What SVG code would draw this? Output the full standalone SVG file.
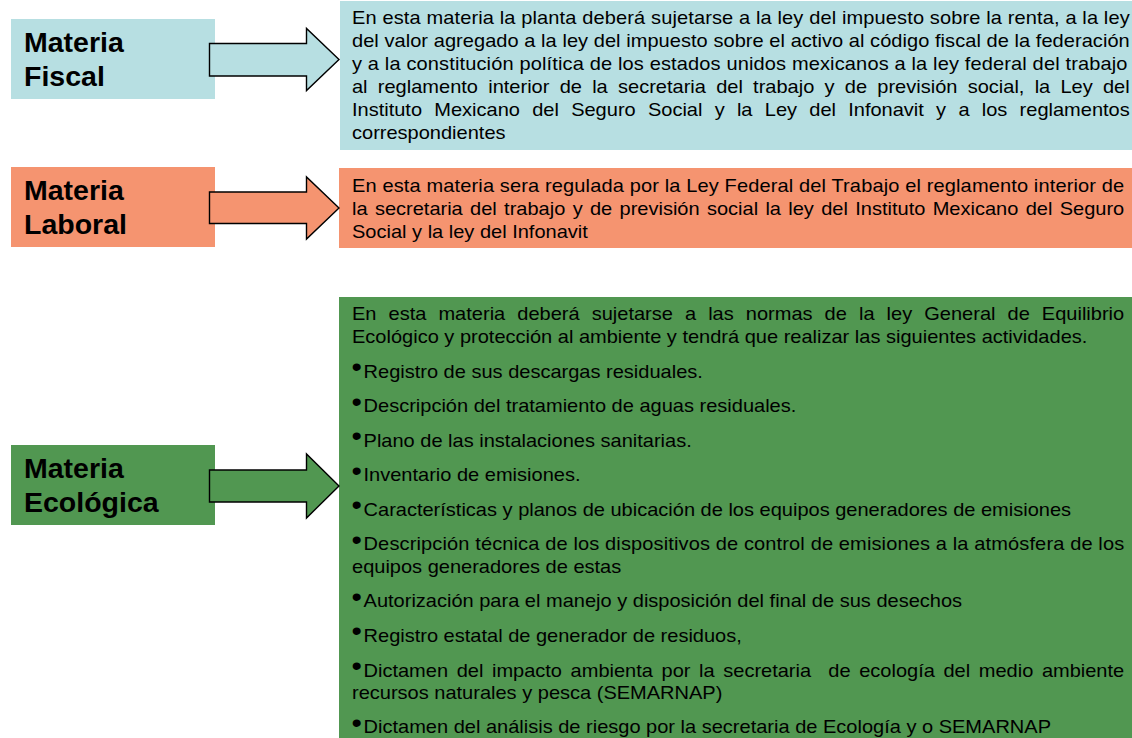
<svg xmlns="http://www.w3.org/2000/svg" width="1132" height="738" viewBox="0 0 1132 738">
<style>
  .lbl{font-family:"Liberation Sans",Arial,sans-serif;font-weight:bold;font-size:28.5px;fill:#000}
  .tx{font-family:"Liberation Sans",Arial,sans-serif;font-size:18.2px;fill:#000}
  .bul{font-size:27px}
  .arrow{stroke:#000;stroke-width:1.4;stroke-linejoin:miter}
  .blue{fill:#B7DFE2}
  .salmon{fill:#F59470}
  .green{fill:#519751}
</style>
<rect width="1132" height="738" fill="#fff"/>

<g id="node-fiscal">
  <rect class="blue" x="11" y="19" width="204" height="80"/>
  <text class="lbl" x="24" y="52">Materia</text>
  <text class="lbl" x="24" y="86">Fiscal</text>
</g>
<g id="node-laboral">
  <rect class="salmon" x="11" y="167" width="204" height="80"/>
  <text class="lbl" x="24" y="200">Materia</text>
  <text class="lbl" x="24" y="234">Laboral</text>
</g>
<g id="node-ecologica">
  <rect class="green" x="11" y="445" width="204" height="80"/>
  <text class="lbl" x="24" y="478">Materia</text>
  <text class="lbl" x="24" y="512">Ecológica</text>
</g>

<g id="node-fiscal-desc">
  <rect class="blue" x="340" y="1" width="792" height="149"/>
  <g class="tx" transform="translate(352 0) scale(1.1 1)">
    <text x="0" y="24" textLength="707" lengthAdjust="spacing">En esta materia la planta deberá sujetarse a la ley del impuesto sobre la renta, a la ley</text>
    <text x="0" y="47" textLength="707" lengthAdjust="spacing">del valor agregado a la ley del impuesto sobre el activo al código fiscal de la federación</text>
    <text x="0" y="70" textLength="705" lengthAdjust="spacing">y a la constitución política de los estados unidos mexicanos a la ley federal del trabajo</text>
    <text x="0" y="93" word-spacing="4.26" textLength="707" lengthAdjust="spacing">al reglamento interior de la secretaria del trabajo y de previsión social, la Ley del</text>
    <text x="0" y="116" word-spacing="6.1" textLength="707" lengthAdjust="spacing">Instituto Mexicano del Seguro Social y la Ley del Infonavit y a los reglamentos</text>
    <text x="0" y="139">correspondientes</text>
  </g>
</g>

<g id="node-laboral-desc">
  <rect class="salmon" x="339" y="168" width="793" height="80"/>
  <g class="tx" transform="translate(352 0) scale(1.1 1)">
    <text x="0" y="192" textLength="702" lengthAdjust="spacing">En esta materia sera regulada por la Ley Federal del Trabajo el reglamento interior de</text>
    <text x="0" y="215" word-spacing="1.6" textLength="702" lengthAdjust="spacing">la secretaria del trabajo y de previsión social la ley del Instituto Mexicano del Seguro</text>
    <text x="0" y="238">Social y la ley del Infonavit</text>
  </g>
</g>

<g id="node-ecologica-desc">
  <rect class="green" x="339" y="297" width="793" height="441"/>
  <g class="tx" transform="translate(352 0) scale(1.1 1)">
    <text x="0" y="320" word-spacing="5.9" textLength="702" lengthAdjust="spacing">En esta materia deberá sujetarse a las normas de la ley General de Equilibrio</text>
    <text x="0" y="343">Ecológico y protección al ambiente y tendrá que realizar las siguientes actividades.</text>
    <text y="378"><tspan class="bul" x="-0.4" dy="-1.5">•</tspan><tspan x="10.5" dy="1.5">Registro de sus descargas residuales.</tspan></text>
    <text y="412.5"><tspan class="bul" x="-0.4" dy="-1.5">•</tspan><tspan x="10.5" dy="1.5">Descripción del tratamiento de aguas residuales.</tspan></text>
    <text y="447"><tspan class="bul" x="-0.4" dy="-1.5">•</tspan><tspan x="10.5" dy="1.5">Plano de las instalaciones sanitarias.</tspan></text>
    <text y="481.5"><tspan class="bul" x="-0.4" dy="-1.5">•</tspan><tspan x="10.5" dy="1.5">Inventario de emisiones.</tspan></text>
    <text y="516"><tspan class="bul" x="-0.4" dy="-1.5">•</tspan><tspan x="10.5" dy="1.5">Características y planos de ubicación de los equipos generadores de emisiones</tspan></text>
    <text y="550.5"><tspan class="bul" x="-0.4" dy="-1.5">•</tspan><tspan x="10.5" dy="1.5" textLength="691.5" lengthAdjust="spacing">Descripción técnica de los dispositivos de control de emisiones a la atmósfera de los</tspan></text>
    <text x="0" y="573">equipos generadores de estas</text>
    <text y="607.5"><tspan class="bul" x="-0.4" dy="-1.5">•</tspan><tspan x="10.5" dy="1.5">Autorización para el manejo y disposición del final de sus desechos</tspan></text>
    <text y="642"><tspan class="bul" x="-0.4" dy="-1.5">•</tspan><tspan x="10.5" dy="1.5">Registro estatal de generador de residuos,</tspan></text>
    <text y="677" style="white-space:pre"><tspan class="bul" x="-0.4" dy="-1.5">•</tspan><tspan x="10.5" dy="1.5" word-spacing="2.8" textLength="691.5" lengthAdjust="spacing">Dictamen del impacto ambienta por la secretaria  de ecología del medio ambiente</tspan></text>
    <text x="0" y="699.5">recursos naturales y pesca (SEMARNAP)</text>
    <text y="733.5"><tspan class="bul" x="-0.4" dy="-1.5">•</tspan><tspan x="10.5" dy="1.5">Dictamen del análisis de riesgo por la secretaria de Ecología y o SEMARNAP</tspan></text>
  </g>
</g>

<g id="connectors">
  <path class="arrow blue" d="M209.5,43.5 H306.5 V28.5 L339,59.5 L306.5,90.5 V76 H209.5 Z"/>
  <path class="arrow salmon" d="M209.5,192 H306.5 V177 L339,208 L306.5,239 V223.5 H209.5 Z"/>
  <path class="arrow green" d="M209.5,470 H306.5 V454 L339,486 L306.5,518 V502 H209.5 Z"/>
</g>
</svg>
